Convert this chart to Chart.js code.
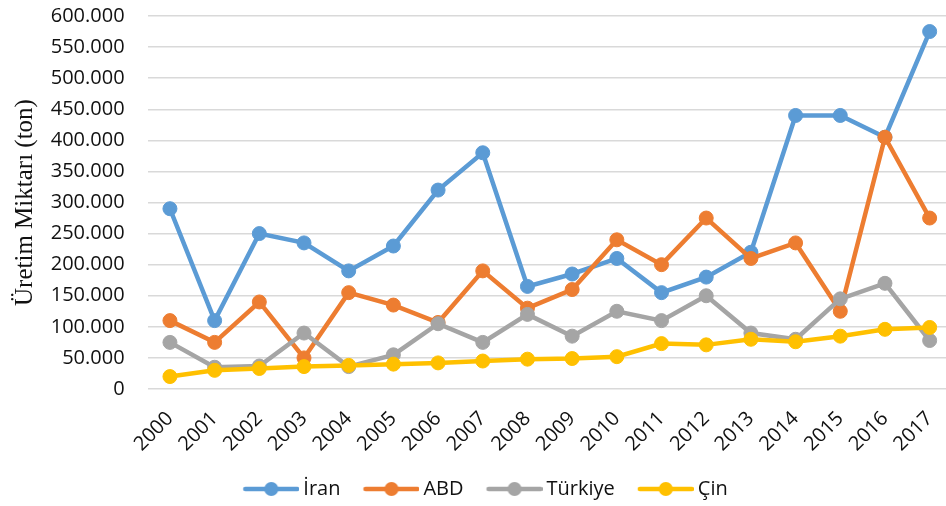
<!DOCTYPE html>
<html lang="tr">
  <head>
    <meta charset="UTF-8" />
    <title>Üretim Miktarı</title>
    <script src="https://cdn.jsdelivr.net/npm/chart.js"></script>
    <style>
      html, body { margin: 0; padding: 0; overflow: hidden; background: #fff; }
      #wrap { width: 960px; height: 509px; }
    </style>
  </head>
  <body>
    <div id="wrap"><canvas id="uretimChart"></canvas></div>
    <script>
      // veriler (grafikten okunan yaklaşık değerler)
      const years = ["2000","2001","2002","2003","2004","2005","2006","2007","2008",
                     "2009","2010","2011","2012","2013","2014","2015","2016","2017"];
      const iran    = [290000,110000,250000,235000,190000,230000,320000,380000,165000,
                       185000,210000,155000,180000,220000,440000,440000,405000,575000];
      const abd     = [110000,75000,140000,50000,155000,135000,107000,190000,130000,
                       160000,240000,200000,275000,210000,235000,125000,405000,275000];
      const turkiye = [75000,35000,37000,90000,36000,55000,105000,75000,120000,
                       85000,125000,110000,150000,90000,80000,145000,170000,78000];
      const cin     = [20000,30000,33000,36000,38000,40000,42000,45000,48000,
                       49000,52000,73000,71000,80000,76000,85000,96000,99000];
      const seriesNames = ["İran", "ABD", "Türkiye", "Çin"];
      const colors = ["#5B9BD5", "#ED7D31", "#A5A5A5", "#FFC000"];
      const yTicks = { min: 0, max: 600000, step: 50000 };

      function formatTick(v) {
        return v.toString().replace(/\B(?=(\d{3})+(?!\d))/g, ".");
      }

      // legend ikonu: çizgi + daire
      function legendIcon(color) {
        const c = document.createElement("canvas");
        c.width = 80;
        c.height = 18;
        const g = c.getContext("2d");
        g.strokeStyle = color;
        g.lineWidth = 4.5;
        g.lineCap = "round";
        g.beginPath();
        g.moveTo(26, 9);
        g.lineTo(78, 9);
        g.stroke();
        g.fillStyle = color;
        g.beginPath();
        g.arc(52, 9, 7, 0, Math.PI * 2);
        g.fill();
        return c;
      }

      const allData = [iran, abd, turkiye, cin];
      const datasets = allData.map((d, i) => ({
        label: seriesNames[i],
        data: d,
        borderColor: colors[i],
        backgroundColor: colors[i],
        borderWidth: 4.5,
        pointRadius: 7,
        pointBorderWidth: 1,
        pointHoverRadius: 7,
        tension: 0,
        order: 3 - i, // Çin en üstte
      }));

      const ctx = document.getElementById("uretimChart").getContext("2d");
      new Chart(ctx, {
        type: "line",
        data: { labels: years, datasets: datasets },
        options: {
          responsive: true,
          maintainAspectRatio: false,
          animation: false,
          layout: { padding: { top: 16, right: 7, left: 0, bottom: 0 } },
          scales: {
            x: {
              offset: true,
              grid: {
                display: true,
                drawOnChartArea: false,
                drawTicks: true,
                tickLength: 10,
                tickColor: "rgba(0,0,0,0)",
              },
              border: { display: false },
              ticks: {
                color: "#111",
                font: { family: "Open Sans", size: 20 },
                minRotation: 45,
                maxRotation: 45,
                padding: 8,
              },
              afterFit: (scale) => { scale.height = 85; },
            },
            y: {
              min: yTicks.min,
              max: yTicks.max,
              border: { display: false },
              grid: {
                color: "#d9d9d9",
                lineWidth: 1.5,
                drawTicks: true,
                tickLength: 22,
                tickColor: "rgba(0,0,0,0)",
              },
              ticks: {
                stepSize: yTicks.step,
                color: "#111",
                font: { family: "Open Sans", size: 20 },
                padding: 1,
                callback: (v) => formatTick(v),
              },
              title: {
                display: true,
                text: "Üretim Miktarı (ton)",
                color: "#111",
                font: { family: "Liberation Serif", size: 25 },
                padding: { top: 10, bottom: 0 },
              },
              afterFit: (scale) => { scale.width = 147.6; },
            },
          },
          plugins: {
            legend: {
              position: "bottom",
              reverse: true,
              labels: {
                color: "#111",
                font: { family: "Open Sans", size: 20 },
                usePointStyle: true,
                pointStyleWidth: 68,
                padding: 5,
                generateLabels: (chart) =>
                  Chart.defaults.plugins.legend.labels
                    .generateLabels(chart)
                    .map((l) => ({ ...l, pointStyle: legendIcon(colors[l.datasetIndex]) })),
              },
            },
            tooltip: { enabled: false },
          },
        },
      });
    </script>
  </body>
</html>
